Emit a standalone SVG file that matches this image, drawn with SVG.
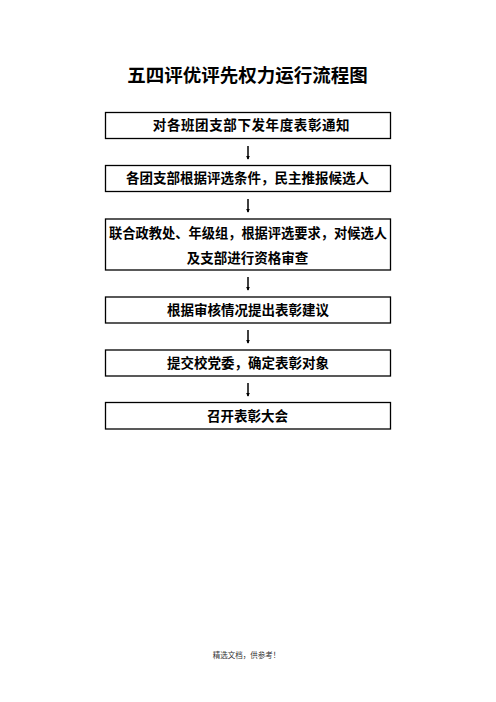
<svg xmlns="http://www.w3.org/2000/svg" width="496" height="702" viewBox="0 0 496 702">
<defs>
<style>
.box{fill:#fff;stroke:#000;stroke-width:1.3}
.t{font-family:"Noto Sans CJK SC","Noto Sans CJK JP",sans-serif;font-size:13.5px;font-weight:bold;fill:#000;text-anchor:middle}
.title{font-family:"Noto Sans CJK SC","Noto Sans CJK JP",sans-serif;font-size:18.5px;font-weight:bold;fill:#000;text-anchor:middle}
.foot{font-family:"Noto Sans CJK SC","Noto Sans CJK JP",serif;font-size:7.5px;fill:#333;text-anchor:middle}
.conn{stroke:#000;stroke-width:1.5;fill:none}
</style>
<marker id="ah" viewBox="0 0 6 6" refX="5" refY="3" markerWidth="4" markerHeight="4" markerUnits="userSpaceOnUse" orient="auto">
<path d="M0,0 L6,3 L0,6 z" fill="#000"/>
</marker>
</defs>
<rect width="496" height="702" fill="#fff"/>
<text class="title" x="247.5" y="82">五四评优评先权力运行流程图</text>
<g id="connectors">
<line class="conn" x1="248" y1="146" x2="248" y2="159" marker-end="url(#ah)"/>
<line class="conn" x1="248" y1="199" x2="248" y2="212" marker-end="url(#ah)"/>
<line class="conn" x1="248" y1="277" x2="248" y2="290" marker-end="url(#ah)"/>
<line class="conn" x1="248" y1="330" x2="248" y2="343" marker-end="url(#ah)"/>
<line class="conn" x1="248" y1="383" x2="248" y2="396" marker-end="url(#ah)"/>
</g>
<g id="n1">
<rect class="box" x="105.5" y="112.5" width="285" height="26"/>
<text class="t" x="251.5" y="130" letter-spacing="0.6">对各班团支部下发年度表彰通知</text>
</g>
<g id="n2">
<rect class="box" x="105.5" y="165.5" width="285" height="26"/>
<text class="t" x="247.5" y="183">各团支部根据评选条件，民主推报候选人</text>
</g>
<g id="n3">
<rect class="box" x="105.5" y="219" width="285" height="51"/>
<text class="t" x="248" y="238" textLength="278" lengthAdjust="spacingAndGlyphs">联合政教处、年级组，根据评选要求，对候选人</text>
<text class="t" x="247.5" y="263">及支部进行资格审查</text>
</g>
<g id="n4">
<rect class="box" x="105.5" y="297" width="285" height="26"/>
<text class="t" x="248" y="315">根据审核情况提出表彰建议</text>
</g>
<g id="n5">
<rect class="box" x="105.5" y="350" width="285" height="26"/>
<text class="t" x="248" y="368">提交校党委，确定表彰对象</text>
</g>
<g id="n6">
<rect class="box" x="105.5" y="402.5" width="285" height="26.5"/>
<text class="t" x="247.5" y="420.5">召开表彰大会</text>
</g>
<text class="foot" x="246.5" y="658">精选文档，供参考！</text>
</svg>
